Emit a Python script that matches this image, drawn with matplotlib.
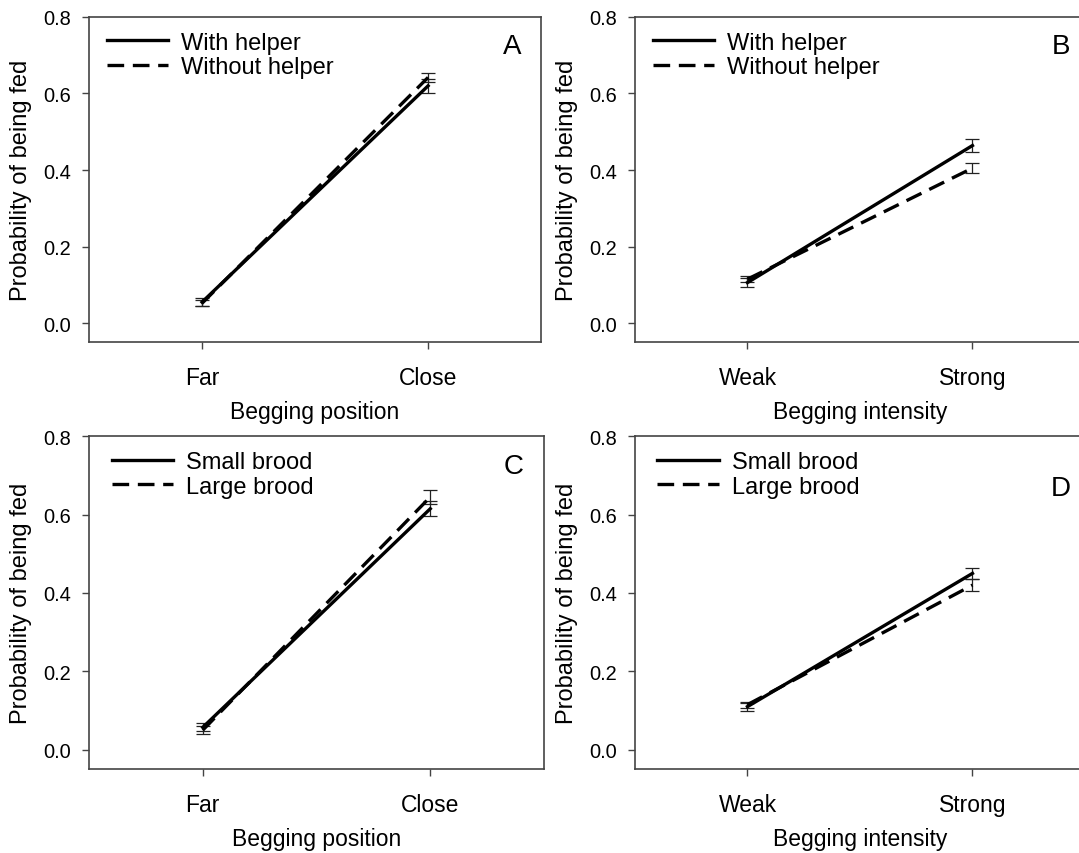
import numpy as np
import matplotlib
matplotlib.use("Agg")
import matplotlib.pyplot as plt

plt.rcParams['font.family'] = ['Liberation Sans', 'DejaVu Sans']

# panel A: begging position x helper
pos_labels = ["Far", "Close"]
A_with = [0.055, 0.620]
A_with_err = [0.010, 0.018]
A_without = [0.052, 0.642]
A_without_err = [0.008, 0.012]

# panel B: begging intensity x helper
int_labels = ["Weak", "Strong"]
B_with = [0.106, 0.464]
B_with_err = [0.012, 0.017]
B_without = [0.115, 0.405]
B_without_err = [0.007, 0.013]

# panel C: begging position x brood size
C_small = [0.057, 0.615]
C_small_err = [0.010, 0.019]
C_large = [0.050, 0.645]
C_large_err = [0.010, 0.017]

# panel D: begging intensity x brood size
D_small = [0.110, 0.450]
D_small_err = [0.010, 0.015]
D_large = [0.115, 0.420]
D_large_err = [0.008, 0.015]

fig = plt.figure(figsize=(10.79, 8.54), dpi=100)

axA = fig.add_axes([0.0825, 0.598, 0.419, 0.381])
axB = fig.add_axes([0.5885, 0.598, 0.417, 0.381])
axC = fig.add_axes([0.0825, 0.098, 0.4217, 0.390])
axD = fig.add_axes([0.5885, 0.098, 0.417, 0.390])

panels = [
    (axA, pos_labels, "Begging position", A_with, A_with_err, A_without, A_without_err,
     ["With helper", "Without helper"], "A", (0.04, 0.955), (0.936, 0.91)),
    (axB, int_labels, "Begging intensity", B_with, B_with_err, B_without, B_without_err,
     ["With helper", "Without helper"], "B", (0.04, 0.955), (0.947, 0.91)),
    (axC, pos_labels, "Begging position", C_small, C_small_err, C_large, C_large_err,
     ["Small brood", "Large brood"], "C", (0.05, 0.955), (0.934, 0.91)),
    (axD, int_labels, "Begging intensity", D_small, D_small_err, D_large, D_large_err,
     ["Small brood", "Large brood"], "D", (0.05, 0.955), (0.947, 0.845)),
]

x = np.arange(2)
for ax, xlabs, xlabel, y1, e1, y2, e2, names, letter, leg_xy, let_xy in panels:
    ax.plot(x, y1, color="black", lw=2.4, ls="-", label=names[0], zorder=3)
    ax.plot(x, y2, color="black", lw=2.4, ls=(0, (5, 2.6)), label=names[1], zorder=3)
    ax.errorbar(x, y1, yerr=e1, fmt="none", ecolor="#222222", elinewidth=0.9,
                capsize=5, capthick=0.9, zorder=2)
    ax.errorbar(x, y2, yerr=e2, fmt="none", ecolor="#222222", elinewidth=0.9,
                capsize=5, capthick=0.9, zorder=2)
    ax.set_xlim(-0.5, 1.5)
    ax.set_ylim(-0.05, 0.8)
    ax.set_yticks([0.0, 0.2, 0.4, 0.6, 0.8])
    ax.set_yticklabels(["0.0", "0.2", "0.4", "0.6", "0.8"], fontsize=14.4)
    ax.set_xticks(x)
    ax.set_xticklabels(xlabs, fontsize=16.5)
    ax.tick_params(axis="x", direction="out", length=5, width=1, color="#444444", pad=12)
    ax.tick_params(axis="y", direction="out", length=5, width=1, color="#444444", pad=8)
    for s in ax.spines.values():
        s.set_color("#444444")
        s.set_linewidth(1.2)
    ax.set_xlabel(xlabel, fontsize=16.5, labelpad=8)
    ax.set_ylabel("Probability of being fed", fontsize=17, labelpad=8)
    ax.legend(loc="upper left", bbox_to_anchor=leg_xy, frameon=False, fontsize=17,
              handlelength=2.6, handletextpad=0.55, labelspacing=0.1,
              borderpad=0, borderaxespad=0)
    ax.text(let_xy[0], let_xy[1], letter, transform=ax.transAxes, fontsize=20,
            ha="center", va="center")

fig.savefig("out.png", dpi=100)
